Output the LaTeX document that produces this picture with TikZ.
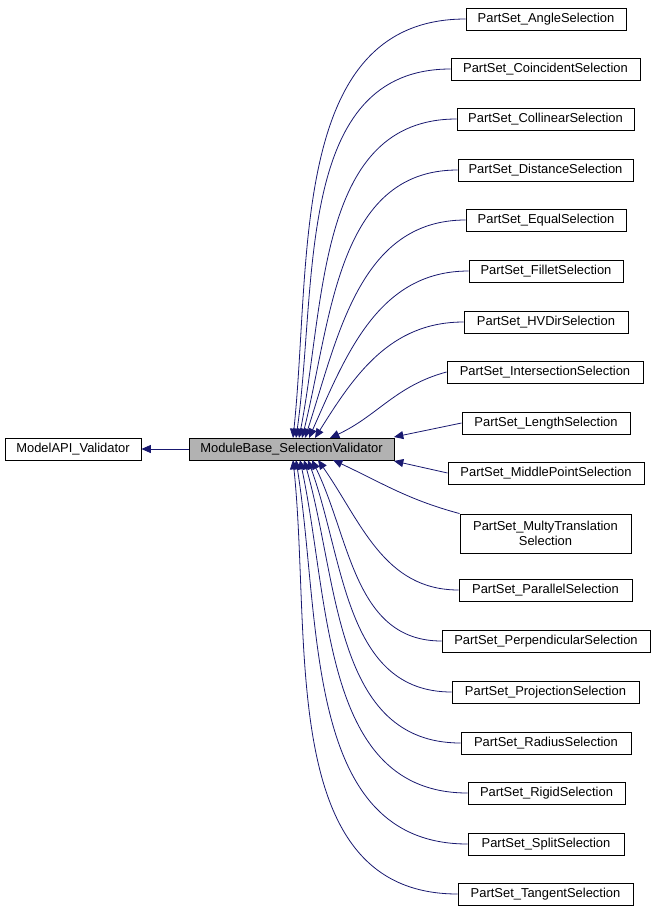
\documentclass[tikz,border=0pt]{standalone}
\usepackage{fontspec}
\setmainfont{Liberation Sans}
\usetikzlibrary{arrows.meta}
\definecolor{navy}{HTML}{191970}
\begin{document}
\begin{tikzpicture}[x=0.75pt,y=-0.75pt,
  cls/.style={draw=black,line width=0.7pt,fill=white,minimum height=16.5pt,inner sep=1pt,font=\fontsize{9.7pt}{11pt}\selectfont,align=center},
  edge/.style={draw=navy,line width=0.6pt,-{Triangle[length=7pt,width=6pt,fill=navy]}}]
\useasboundingbox (0,0) rectangle (655,915);
\node[cls,fill=gray!60,minimum width=153.75pt] (mb) at (291.5,449) {ModuleBase\_SelectionValidator};
\node[cls,minimum width=102pt] (api) at (73,449) {ModelAPI\_Validator};
\draw[edge] (mb.west) -- (api.east);
\node[cls,minimum width=120pt] (c1) at (546,19) {PartSet\_AngleSelection};
\node[cls,minimum width=141.75pt] (c2) at (545.5,69) {PartSet\_CoincidentSelection};
\node[cls,minimum width=132.75pt] (c3) at (545.5,119) {PartSet\_CollinearSelection};
\node[cls,minimum width=131.25pt] (c4) at (545.5,170) {PartSet\_DistanceSelection};
\node[cls,minimum width=120pt] (c5) at (546,220) {PartSet\_EqualSelection};
\node[cls,minimum width=115.5pt] (c6) at (546,271) {PartSet\_FilletSelection};
\node[cls,minimum width=123pt] (c7) at (546,322) {PartSet\_HVDirSelection};
\node[cls,minimum width=147pt] (c8) at (545,372) {PartSet\_IntersectionSelection};
\node[cls,minimum width=126pt] (c9) at (546,423) {PartSet\_LengthSelection};
\node[cls,minimum width=147pt] (c10) at (546,473) {PartSet\_MiddlePointSelection};
\node[cls,minimum width=128.25pt,minimum height=29.25pt] (c11) at (545.5,533.5) {PartSet\_MultyTranslation\\Selection};
\node[cls,minimum width=129.75pt] (c12) at (545.5,590) {PartSet\_ParallelSelection};
\node[cls,minimum width=156pt] (c13) at (546,641) {PartSet\_PerpendicularSelection};
\node[cls,minimum width=140.25pt] (c14) at (545.5,692) {PartSet\_ProjectionSelection};
\node[cls,minimum width=127.5pt] (c15) at (546,743) {PartSet\_RadiusSelection};
\node[cls,minimum width=117.75pt] (c16) at (546.5,793) {PartSet\_RigidSelection};
\node[cls,minimum width=117pt] (c17) at (546,844) {PartSet\_SplitSelection};
\node[cls,minimum width=131.25pt] (c18) at (545.5,894) {PartSet\_TangentSelection};
\coordinate (t1) at (293,438); \coordinate (t2) at (296,438); \coordinate (t3) at (299,438);
\coordinate (t4) at (302,438); \coordinate (t5) at (305,438); \coordinate (t6) at (309,438);
\coordinate (t7) at (315,438); \coordinate (t8) at (330,438); \coordinate (t9) at (394,437);
\coordinate (t10) at (394,461); \coordinate (t11) at (333,460); \coordinate (t12) at (318,460);
\coordinate (t13) at (312,460); \coordinate (t14) at (308,460); \coordinate (t15) at (304,460);
\coordinate (t16) at (300,460); \coordinate (t17) at (296,460); \coordinate (t18) at (293,460);
\draw[edge] (c1.west) to[out=180,in=84] (t1);
\draw[edge] (c2.west) to[out=180,in=82] (t2);
\draw[edge] (c3.west) to[out=180,in=79] (t3);
\draw[edge] (c4.west) to[out=180,in=76] (t4);
\draw[edge] (c5.west) to[out=180,in=72] (t5);
\draw[edge] (c6.west) to[out=180,in=66] (t6);
\draw[edge] (c7.west) to[out=180,in=58] (t7);
\draw[edge] (c8.west) to[out=195,in=25] (t8);
\draw[edge] (c9.west) -- (t9);
\draw[edge] (c10.west) -- (t10);
\draw[edge] (c11.north west) to[out=165,in=-25] (t11);
\draw[edge] (c12.west) to[out=180,in=-55] (t12);
\draw[edge] (c13.west) to[out=180,in=-64] (t13);
\draw[edge] (c14.west) to[out=180,in=-70] (t14);
\draw[edge] (c15.west) to[out=180,in=-74] (t15);
\draw[edge] (c16.west) to[out=180,in=-78] (t16);
\draw[edge] (c17.west) to[out=180,in=-81] (t17);
\draw[edge] (c18.west) to[out=180,in=-84] (t18);
\end{tikzpicture}
\end{document}
